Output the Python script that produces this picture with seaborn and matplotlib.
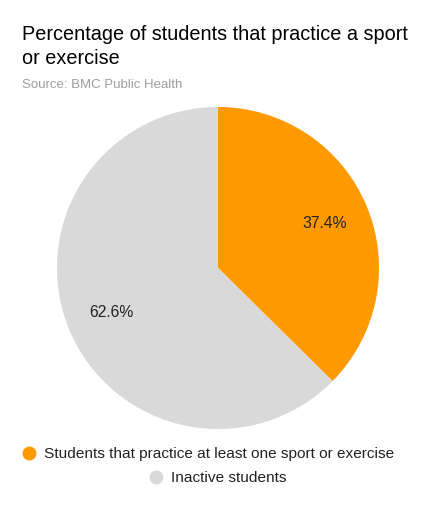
import matplotlib
matplotlib.use("Agg")
import matplotlib.pyplot as plt
from matplotlib.lines import Line2D
import seaborn as sns

# data
categories = ["Students that practice at least one sport or exercise", "Inactive students"]
shares = [37.4, 62.6]
colors = ["#FF9900", "#D9D9D9"]
title = "Percentage of students that practice a sport\nor exercise"
source = "Source: BMC Public Health"

sns.set_style("white")
plt.rcParams['font.family'] = ['Liberation Sans', 'DejaVu Sans']

fig = plt.figure(figsize=(4.36, 5.08), dpi=100)
ax = fig.add_axes([0.1307, 0.1555, 0.7386, 0.634])

wedges, texts, autotexts = ax.pie(
    shares, colors=colors, startangle=90, counterclock=False,
    autopct="%.1f%%", pctdistance=0.72, radius=1,
    wedgeprops=dict(linewidth=0),
    textprops=dict(fontsize=11.3, color="#222222"))
ax.set_xlim(-1.0, 1.0)
ax.set_ylim(-1.0, 1.0)
ax.set_aspect("equal")
ax.axis("off")

fig.text(22 / 436, 1 - 46.5 / 508, title, fontsize=14.3, color="black",
         ha="left", va="center", linespacing=1.3)
fig.text(22 / 436, 1 - 85 / 508, source, fontsize=9.5, color="#9E9E9E",
         ha="left", va="center")

# one legend row per category, like the wrapped legend in the reference
rows = [(208 / 436, 1 - 454 / 508), (218 / 436, 1 - 478 / 508)]
for cat, col, (x, y) in zip(categories, colors, rows):
    h = Line2D([], [], marker="o", linestyle="", markersize=9,
               markerfacecolor=col, markeredgecolor=col)
    leg = fig.legend([h], [cat], loc="center", bbox_to_anchor=(x, y),
                     frameon=False, fontsize=11.1, handletextpad=0.5,
                     handlelength=0.9, borderpad=0)
    for t in leg.get_texts():
        t.set_color("#222222")

fig.savefig("out.png", dpi=100)
